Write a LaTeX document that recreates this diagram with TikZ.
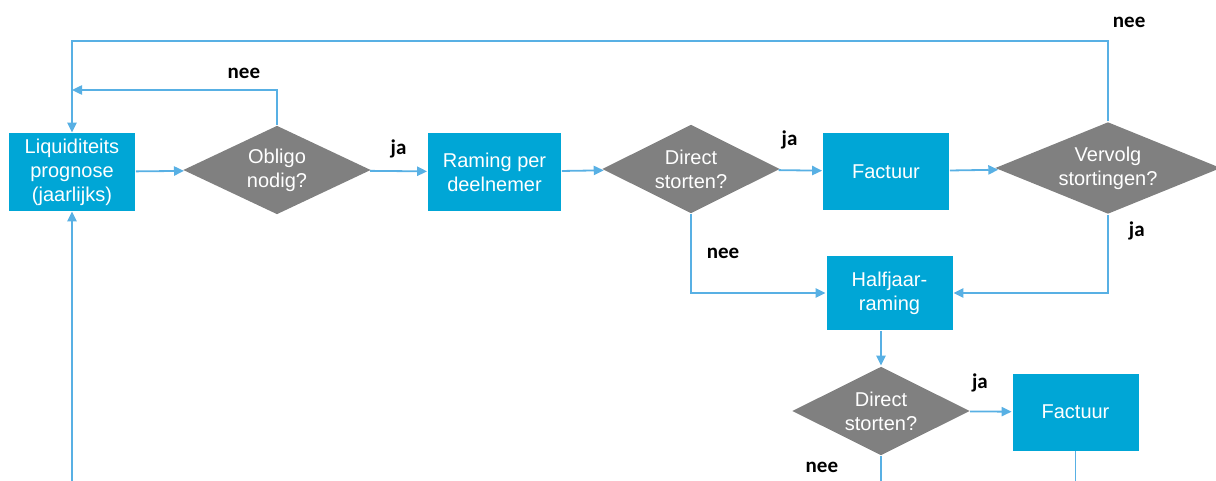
\documentclass[tikz,border=0pt]{standalone}
\usepackage{fontspec}
\setmainfont{Liberation Sans}
\newfontfamily\labelfont{Carlito}
\usetikzlibrary{arrows.meta,shapes.geometric,positioning}
\definecolor{blokblauw}{RGB}{0,166,214}
\definecolor{keuzegrijs}{RGB}{128,128,128}
\definecolor{lijnblauw}{RGB}{88,176,228}

\begin{document}
\begin{tikzpicture}[->,>={Triangle[length=5pt,width=4.6pt]},x=0.5pt,y=-0.5pt,color=lijnblauw,line width=0.9pt,
  blok node/.style={rectangle,fill=blokblauw,text=white,align=center,inner sep=2pt,
    minimum width=63pt,minimum height=38.5pt,font=\fontsize{10}{12}\selectfont},
  keuze node/.style={diamond,fill=keuzegrijs,text=white,align=center,inner sep=0pt,
    aspect=2,minimum width=89pt,minimum height=44.5pt,font=\fontsize{10}{12}\selectfont},
  tekst node/.style={text=black,inner sep=0pt,font=\labelfont\bfseries\fontsize{10.5}{12}\selectfont}]

  \useasboundingbox (0,0) rectangle (1216,481);

  \node[blok node] (1) at (72,172) {Liquiditeits\\prognose\\(jaarlijks)};
  \node[keuze node,minimum width=94pt] (2) at (277,170) {Obligo\\nodig?};
  \node[blok node,minimum width=66.5pt,minimum height=39pt] (3) at (494.5,172) {Raming per\\deelnemer};
  \node[keuze node] (4) at (691,169) {Direct\\storten?};
  \node[blok node] (5) at (886,171.5) {Factuur};
  \node[keuze node,minimum width=113pt,minimum height=46pt] (6) at (1108,168) {Vervolg\\stortingen?};
  \node[blok node,minimum height=37pt] (7) at (889.5,293) {Halfjaar-\\raming};
  \node[keuze node] (8) at (881,411) {Direct\\storten?};
  \node[blok node] (9) at (1075.5,412) {Factuur};

  \coordinate (a) at (72,90);
  \coordinate (b) at (72,41);
  \coordinate (c) at (72,481);
  \coordinate (d) at (881,481);
  \coordinate (e) at (1075.5,481);

  \draw (c) -- (1);
  \draw (1) -- (2);
  \draw (2) -- node[tekst node,above=6pt] {ja} (3);
  \draw (3) -- (4);
  \draw (4) -- node[tekst node,above=10pt,pos=0.25] {ja} (5);
  \draw (5) -- (6);
  \draw (2.north) |- node[tekst node,above left=5pt and 8pt] {nee} (a);
  \draw (6.north) |- node[tekst node,above right=6pt and 2pt] {nee} (b) -- (1.north);
  \draw (6.south) |- node[tekst node,right=10pt,pos=0.1] {ja} (7.east);
  \draw (4.south) |- node[tekst node,right=7.5pt,pos=0.25] {nee} (7.west);
  \draw (7.south -| 8.north) -- (8.north);
  \draw (8) -- node[tekst node,above=9.5pt,pos=0.24] {ja} (9);
  \draw[-] (8.south) -- node[tekst node,left=21pt,pos=0.44] {nee} (d);
  \draw[-] (9) -- (e);

\end{tikzpicture}
\end{document}
